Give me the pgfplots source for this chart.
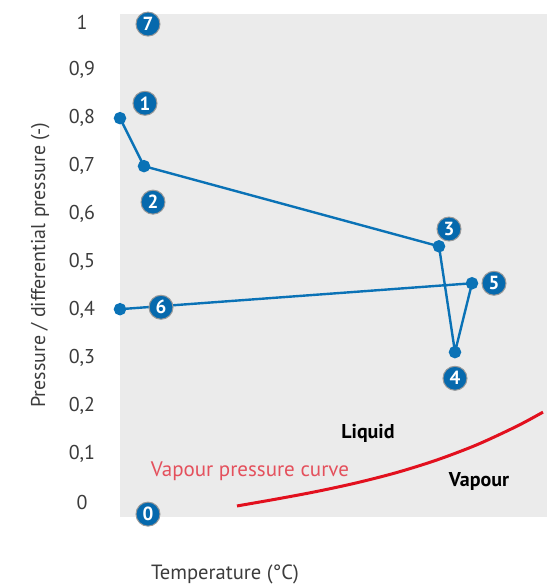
\documentclass[border=0pt]{standalone}
\usepackage{fontspec}
\setmainfont{PT Sans}
\usepackage{pgfplots}
\pgfplotsset{compat=1.18}
\usepackage{pgfplotstable}
\definecolor{bgc}{HTML}{EBEBEB}
\definecolor{lblue}{HTML}{0A72B6}
\definecolor{bblue}{HTML}{0669AD}
\definecolor{cred}{HTML}{E2101E}
\definecolor{lred}{HTML}{E4505C}
\definecolor{tgray}{HTML}{3C3C3C}

\pgfplotstableread{
x y
0 0.8
24 0.7
319 0.533
335 0.3125
352 0.456
0 0.402
}\cycledata

\pgfplotstableread{
x y lab
28 0.996 7
25 0.831 1
33 0.625 2
329 0.569 3
335 0.258 4
374 0.456 5
41 0.406 6
28 -0.025 0
}\badges

\pgfplotstableread{
x y
117 -0.008
157 0.0066
197 0.0223
237 0.0404
277 0.0618
317 0.0879
357 0.1196
397 0.1583
423 0.1875
}\vpcurve

\tikzset{badge/.style={circle, fill=bblue, draw=gray!80, line width=0.5pt, text=white, font=\fontsize{9.5}{10}\selectfont\bfseries, minimum size=12pt, inner sep=0pt, anchor=center}}

\begin{document}
\begin{tikzpicture}
\useasboundingbox (-60pt,-34pt) rectangle (213.5pt,258.5pt);
\begin{axis}[
  scale only axis,
  width=213.5pt, height=251.5pt,
  xmin=0, xmax=427, ymin=-0.031, ymax=1.017,
  axis background/.style={fill=bgc},
  axis line style={draw=none},
  major tick length=0pt,
  xtick=\empty,
  ytick={0,0.1,...,1.0},
  /pgf/number format/assume math mode=true,
  /pgf/number format/use comma,
  yticklabel style={anchor=center, xshift=-19pt, text=tgray, font=\fontsize{10}{11}\selectfont},
  ylabel={Pressure / differential pressure (-)},
  ylabel style={at={(axis description cs:-0.187,0.5)}, anchor=center, text=tgray, font=\fontsize{10}{11}\selectfont},
  clip=false,
]
\addplot[cred, line width=1.5pt, smooth] table[x=x,y=y]{\vpcurve};
\addplot[lblue, line width=1.2pt, mark=*, mark size=2.5pt, mark options={fill=lblue, draw=lblue}] table[x=x,y=y]{\cycledata};
\addplot[draw=none, mark=none, nodes near coords, point meta=explicit symbolic,
  nodes near coords style={badge}] table[x=x,y=y,meta=lab]{\badges};
\node[font=\fontsize{10}{11}\selectfont\bfseries] at (axis cs:248,0.144) {Liquid};
\node[font=\fontsize{10}{11}\selectfont\bfseries] at (axis cs:359,0.044) {Vapour};
\node[font=\fontsize{10.5}{11}\selectfont, text=lred] at (axis cs:130,0.065) {Vapour pressure curve};
\node[font=\fontsize{10.3}{11}\selectfont, text=tgray] at (axis description cs:0.246,-0.115) {Temperature (°C)};
\end{axis}
\end{tikzpicture}
\end{document}
